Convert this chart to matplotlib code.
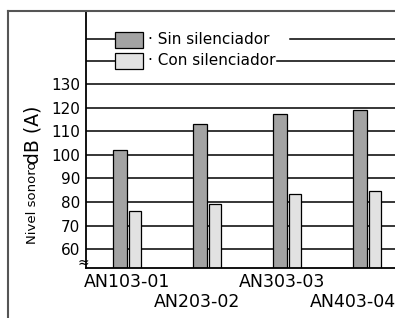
import numpy as np
import matplotlib.pyplot as plt
from matplotlib.lines import Line2D

# datos del grafico
modelos = ['AN103-01', 'AN203-02', 'AN303-03', 'AN403-04']
sin_silenciador = [102, 113, 117.5, 119]
con_silenciador = [76, 79, 83.5, 84.5]
niveles = [60, 70, 80, 90, 100, 110, 120, 130]
leyenda = ['Sin silenciador', 'Con silenciador']

W, H = 395, 318
fig = plt.figure(figsize=(W / 100, H / 100), dpi=100)
plt.rcParams['font.family'] = 'DejaVu Sans'

ax = fig.add_axes([86 / W, (H - 268) / H, 1 - 86 / W, (268 - 11) / H])
x = np.arange(len(modelos))
ancho = 0.17

# lineas de la rejilla
for v in niveles:
    ax.axhline(v, color='black', lw=1.1, zorder=1)

ax.bar(x - ancho / 2 - 0.005, sin_silenciador, ancho, bottom=0,
       color='#a3a3a3', edgecolor='black', lw=0.9, zorder=2)
ax.bar(x + ancho / 2 + 0.01, con_silenciador, ancho * 0.88, bottom=0,
       color='#e2e2e2', edgecolor='black', lw=0.9, zorder=2)

ax.set_xlim(-0.5125, 3.35)
ax.set_ylim(52, 161)
ax.set_yticks(niveles)
ax.set_yticklabels([str(v) for v in niveles], fontsize=11)
ax.set_xticks([])
ax.tick_params(axis='y', length=0, pad=4)
for s in ['top', 'right']:
    ax.spines[s].set_visible(False)
ax.spines['left'].set_linewidth(1.3)
ax.spines['bottom'].set_linewidth(1.3)

# leyenda dibujada en el eje
filas = [(149, '#a3a3a3', 2.04), (140, '#e2e2e2', 1.875)]
for (yv, col, x_fin), txt in zip(filas, leyenda):
    ax.plot([-0.5125, -0.15], [yv, yv], color='black', lw=1.1)
    ax.add_patch(plt.Rectangle((-0.15, yv - 3.6), 0.35, 6.6, facecolor=col,
                               edgecolor='black', lw=0.9, zorder=3))
    ax.text(0.265, yv, '· ' + txt, fontsize=11, va='center', ha='left')
    ax.plot([x_fin, 3.35], [yv, yv], color='black', lw=1.1)

# etiquetas de los modelos (escalonadas)
pos_etq = [0, 0.875, 1.94, 2.83]
for i, (p, m) in enumerate(zip(pos_etq, modelos)):
    ax.annotate(m, xy=(p, 0), xycoords=('data', 'axes fraction'),
                xytext=(0, -10 if i % 2 == 0 else -24.5),
                textcoords='offset points', fontsize=12.5,
                ha='center', va='center', annotation_clip=False)

# simbolo de corte del eje
fig.text(83 / W, (H - 263) / H, '≈', fontsize=10, ha='center', va='center')

# titulo del eje y
fig.text(33 / W, (H - 244) / H, 'Nivel sonoro', rotation=90, fontsize=9.5,
         ha='center', va='bottom')
fig.text(33 / W, (H - 164) / H, 'dB (A)', rotation=90, fontsize=13.5,
         ha='center', va='bottom')

# marco exterior
fig.add_artist(Line2D([8 / W, 8 / W], [0, 1 - 11 / H], color='#555555', lw=1.5))
fig.add_artist(Line2D([8 / W, 1], [1 - 11 / H, 1 - 11 / H], color='#555555', lw=1.5))

fig.savefig('out.png', dpi=100)
